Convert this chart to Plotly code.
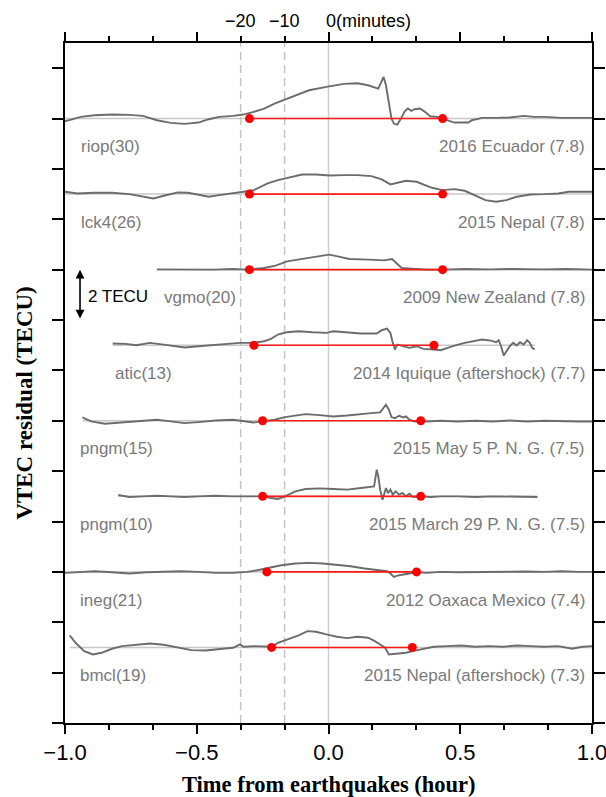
import plotly.graph_objects as go

# Station / event annotations, top to bottom
stations = ["riop(30)", "lck4(26)", "vgmo(20)", "atic(13)",
            "pngm(15)", "pngm(10)", "ineg(21)", "bmcl(19)"]
events = ["2016 Ecuador (7.8)", "2015 Nepal (7.8)", "2009 New Zealand (7.8)",
          "2014 Iquique (aftershock) (7.7)", "2015 May 5 P. N. G. (7.5)",
          "2015 March 29 P. N. G. (7.5)", "2012 Oaxaca Mexico (7.4)",
          "2015 Nepal (aftershock) (7.3)"]

# Vertical stacking offset of each record (TECU)
offsets = [24, 21, 18, 15, 12, 9, 6, 3]

# Anomaly window (hours from the earthquake)
red_start = [-0.300, -0.300, -0.300, -0.283, -0.250, -0.250, -0.234, -0.216]
red_end = [0.433, 0.433, 0.433, 0.400, 0.350, 0.350, 0.334, 0.318]

# Station label x position (hours)
label_x = [-0.945, -0.945, -0.631, -0.819, -0.949, -0.949, -0.949, -0.949]

# VTEC residual time series: time (hour), residual (TECU)
riop_t = [-1.0, -0.940, -0.888, -0.822, -0.756, -0.704, -0.651, -0.599, -0.546, -0.494,
          -0.454, -0.415, -0.362, -0.323, -0.284, -0.244, -0.205, -0.165, -0.126, -0.074,
          -0.008, 0.058, 0.110, 0.150, 0.189, 0.200, 0.209, 0.218, 0.229, 0.239,
          0.248, 0.261, 0.275, 0.288, 0.301, 0.314, 0.327, 0.347, 0.366, 0.386,
          0.412, 0.432, 0.452, 0.478, 0.504, 0.531, 0.544, 0.583, 0.636, 0.688,
          0.741, 0.780, 0.820, 0.885, 0.951, 1.0]
riop_v = [-0.106, 0.066, 0.132, 0.159, 0.146, 0.106, -0.066, -0.172, -0.212, -0.159,
          -0.026, 0.066, 0.106, 0.159, 0.265, 0.397, 0.595, 0.754, 0.926, 1.124,
          1.257, 1.376, 1.402, 1.323, 1.190, 1.455, 1.653, 1.323, 0.661, 0.0,
          -0.198, -0.238, 0.0, 0.265, 0.397, 0.304, 0.370, 0.397, 0.265, 0.093,
          0.066, 0.0, -0.066, -0.159, -0.159, -0.159, -0.066, 0.026, 0.026, 0.040,
          0.106, 0.066, 0.066, 0.026, 0.026, 0.026]

lck4_t = [-1.0, -0.953, -0.888, -0.822, -0.756, -0.704, -0.664, -0.625, -0.572, -0.533,
          -0.494, -0.454, -0.415, -0.362, -0.323, -0.284, -0.257, -0.231, -0.192, -0.152,
          -0.100, -0.047, 0.005, 0.058, 0.110, 0.163, 0.202, 0.235, 0.261, 0.294,
          0.334, 0.360, 0.393, 0.432, 0.478, 0.517, 0.557, 0.596, 0.636, 0.675,
          0.714, 0.767, 0.820, 0.872, 0.911, 0.951, 1.0]
lck4_v = [0.093, 0.026, 0.053, 0.053, 0.0, -0.106, -0.172, -0.066, 0.066, 0.053,
          -0.040, -0.106, -0.040, 0.053, 0.093, 0.159, 0.291, 0.423, 0.556, 0.648,
          0.780, 0.780, 0.741, 0.754, 0.754, 0.714, 0.582, 0.384, 0.450, 0.529,
          0.489, 0.384, 0.251, 0.159, 0.198, 0.132, -0.040, -0.238, -0.304, -0.238,
          -0.106, -0.013, 0.0, 0.026, 0.093, 0.106, 0.093]

vgmo_t = [-0.651, -0.584, -0.511, -0.437, -0.363, -0.304, -0.245, -0.201, -0.157, -0.098,
          -0.039, 0.002, 0.035, 0.079, 0.153, 0.211, 0.241, 0.256, 0.278, 0.315,
          0.374, 0.433, 0.521, 0.609, 0.698, 0.816, 0.904, 1.0]
vgmo_v = [0.013, 0.0, 0.013, 0.0, 0.026, 0.0, 0.066, 0.159, 0.331, 0.423,
          0.529, 0.595, 0.529, 0.423, 0.397, 0.370, 0.423, 0.265, 0.066, 0.040,
          0.0, 0.0, 0.026, 0.013, 0.026, 0.013, 0.026, 0.0]

atic_t = [-0.819, -0.769, -0.730, -0.678, -0.625, -0.586, -0.546, -0.494, -0.441, -0.389,
          -0.336, -0.284, -0.244, -0.218, -0.192, -0.159, -0.113, -0.060, -0.008, 0.018,
          0.071, 0.123, 0.183, 0.202, 0.222, 0.235, 0.244, 0.252, 0.261, 0.281,
          0.307, 0.334, 0.360, 0.399, 0.426, 0.452, 0.478, 0.517, 0.557, 0.583,
          0.616, 0.636, 0.646, 0.655, 0.665, 0.675, 0.688, 0.701, 0.714, 0.727,
          0.741, 0.754, 0.764, 0.773, 0.783]
atic_v = [0.066, 0.053, 0.0, 0.093, 0.026, -0.040, -0.093, -0.040, 0.013, 0.053,
          0.093, 0.093, 0.159, 0.251, 0.423, 0.516, 0.556, 0.516, 0.489, 0.556,
          0.516, 0.463, 0.463, 0.595, 0.661, 0.489, 0.093, -0.172, 0.026, -0.040,
          -0.106, -0.040, -0.146, -0.172, -0.198, -0.106, -0.013, 0.093, 0.159, 0.225,
          0.185, 0.119, 0.198, -0.040, -0.410, -0.238, -0.040, 0.093, -0.013, 0.119,
          0.026, 0.198, 0.093, -0.106, -0.172]

pngm15_t = [-0.934, -0.901, -0.848, -0.783, -0.717, -0.651, -0.599, -0.546, -0.494, -0.428,
            -0.362, -0.323, -0.284, -0.249, -0.205, -0.165, -0.126, -0.087, -0.034, 0.018,
            0.071, 0.123, 0.163, 0.196, 0.209, 0.218, 0.229, 0.239, 0.252, 0.268,
            0.284, 0.294, 0.307, 0.327, 0.353, 0.373, 0.426, 0.491, 0.557, 0.623,
            0.688, 0.754, 0.820, 0.885, 0.951, 1.0]
pngm15_v = [0.132, -0.026, -0.119, -0.066, 0.013, 0.040, -0.026, -0.093, -0.053, 0.013,
            0.040, 0.0, -0.066, -0.026, 0.040, 0.146, 0.212, 0.265, 0.225, 0.172,
            0.212, 0.278, 0.304, 0.331, 0.503, 0.635, 0.437, 0.146, 0.106, 0.198,
            0.132, 0.172, 0.040, -0.026, 0.0, -0.026, 0.0, -0.026, 0.0, -0.026,
            0.013, -0.026, 0.0, -0.026, -0.026, -0.026]

pngm10_t = [-0.798, -0.756, -0.704, -0.651, -0.599, -0.546, -0.494, -0.428, -0.362, -0.297,
            -0.249, -0.218, -0.192, -0.165, -0.126, -0.087, -0.034, 0.018, 0.071, 0.123,
            0.163, 0.173, 0.179, 0.183, 0.189, 0.196, 0.205, 0.211, 0.218, 0.226,
            0.235, 0.244, 0.255, 0.268, 0.281, 0.294, 0.307, 0.320, 0.351, 0.386,
            0.426, 0.491, 0.557, 0.623, 0.688, 0.754, 0.793]
pngm10_v = [0.053, -0.026, 0.0, 0.026, 0.0, -0.026, 0.0, 0.026, 0.0, 0.0,
            0.0, -0.066, -0.106, 0.0, 0.198, 0.291, 0.317, 0.291, 0.265, 0.331,
            0.397, 0.397, 0.794, 1.058, 0.794, 0.265, -0.132, 0.132, 0.331, 0.132,
            0.265, 0.066, 0.198, 0.066, 0.132, 0.0, 0.106, -0.026, 0.0, -0.026,
            0.0, 0.0, -0.026, 0.0, 0.0, -0.026, -0.026]

ineg_t = [-1.0, -0.940, -0.888, -0.822, -0.756, -0.691, -0.625, -0.559, -0.494, -0.428,
          -0.362, -0.310, -0.270, -0.231, -0.179, -0.126, -0.074, -0.021, 0.032, 0.084,
          0.137, 0.189, 0.222, 0.235, 0.248, 0.268, 0.294, 0.334, 0.373, 0.426,
          0.491, 0.557, 0.623, 0.688, 0.754, 0.820, 0.885, 0.951, 1.0]
ineg_v = [-0.040, 0.0, 0.026, -0.013, -0.066, -0.013, 0.0, 0.026, 0.0, -0.040,
          -0.040, 0.0, 0.066, 0.159, 0.265, 0.331, 0.357, 0.331, 0.291, 0.225,
          0.132, 0.066, 0.026, -0.066, -0.198, -0.132, -0.079, -0.013, -0.040, 0.0,
          -0.013, 0.0, -0.013, 0.0, 0.013, 0.0, 0.026, 0.0, 0.0]

bmcl_t = [-0.982, -0.960, -0.927, -0.894, -0.861, -0.822, -0.783, -0.730, -0.678, -0.625,
          -0.572, -0.520, -0.467, -0.415, -0.362, -0.336, -0.323, -0.284, -0.244, -0.215,
          -0.192, -0.152, -0.113, -0.080, -0.047, -0.008, 0.032, 0.071, 0.110, 0.150,
          0.176, 0.202, 0.215, 0.229, 0.261, 0.294, 0.320, 0.360, 0.399, 0.452,
          0.504, 0.557, 0.609, 0.662, 0.714, 0.767, 0.820, 0.872, 0.925, 0.964, 1.0]
bmcl_v = [0.476, 0.185, -0.146, -0.278, -0.212, -0.053, 0.053, 0.119, 0.159, 0.106,
          -0.013, -0.106, -0.119, -0.079, -0.013, 0.119, 0.026, 0.053, 0.026, 0.026,
          0.185, 0.344, 0.476, 0.648, 0.622, 0.516, 0.423, 0.370, 0.423, 0.384,
          0.251, 0.079, -0.013, -0.278, -0.238, -0.212, -0.146, -0.053, 0.026, 0.053,
          0.079, 0.026, 0.053, 0.026, 0.079, 0.053, 0.026, 0.053, -0.053, 0.026, 0.053]

series = [(riop_t, riop_v), (lck4_t, lck4_v), (vgmo_t, vgmo_v), (atic_t, atic_v),
          (pngm15_t, pngm15_v), (pngm10_t, pngm10_v), (ineg_t, ineg_v), (bmcl_t, bmcl_v)]

# Reference markers in minutes before the quake
minute_marks = [-20, -10]

SANS = "Liberation Sans, Arial, sans-serif"
SERIF = "Liberation Serif, Times New Roman, serif"
TRACE_GRAY = "#6c6c6c"
LABEL_GRAY = "#7a7a7a"

fig = go.Figure()

for i, (t, v) in enumerate(series):
    off = offsets[i]
    # zero line of each record
    fig.add_trace(go.Scatter(x=[t[0], t[-1]], y=[off, off], mode="lines",
                             line=dict(color="#c8c8c8", width=1.5),
                             hoverinfo="skip", showlegend=False))
    fig.add_trace(go.Scatter(x=t, y=[off + val for val in v], mode="lines",
                             line=dict(color=TRACE_GRAY, width=1.9),
                             name=stations[i], showlegend=False))

for i in range(len(series)):
    off = offsets[i]
    fig.add_trace(go.Scatter(x=[red_start[i], red_end[i]], y=[off, off],
                             mode="lines+markers",
                             line=dict(color="#ff1a1a", width=1.6),
                             marker=dict(color="#ff0000", size=9),
                             hoverinfo="skip", showlegend=False))

# guide lines at -20, -10 and 0 minutes
for m in minute_marks:
    fig.add_shape(type="line", xref="x", yref="paper", x0=m / 60, x1=m / 60, y0=0, y1=1,
                  line=dict(color="#c4c4c4", width=1.5, dash="8px,5px"), layer="below")
fig.add_shape(type="line", xref="x", yref="paper", x0=0, x1=0, y0=0, y1=1,
              line=dict(color="#cfcfcf", width=1.5), layer="below")

annotations = []
for i in range(len(series)):
    ly = offsets[i] - 1.12
    annotations.append(dict(x=label_x[i], y=ly, xref="x", yref="y", text=stations[i],
                            showarrow=False, xanchor="left", yanchor="middle",
                            font=dict(family=SANS, size=17, color=LABEL_GRAY)))
    annotations.append(dict(x=0.98, y=ly, xref="x", yref="y", text=events[i],
                            showarrow=False, xanchor="right", yanchor="middle",
                            font=dict(family=SANS, size=17, color=LABEL_GRAY)))

# top minute labels
for m in minute_marks:
    annotations.append(dict(x=m / 60, y=1, xref="x", yref="paper", text="\u2212%d" % abs(m),
                            showarrow=False, xanchor="center", yanchor="middle", yshift=22,
                            font=dict(family=SANS, size=18, color="black")))
annotations.append(dict(x=0, y=1, xref="x", yref="paper", text="0(minutes)",
                        showarrow=False, xanchor="left", yanchor="middle", yshift=22, xshift=-5,
                        font=dict(family=SANS, size=18, color="black")))

# 2 TECU scale bar
annotations.append(dict(x=-0.943, y=18, ax=-0.943, ay=16, xref="x", yref="y",
                        axref="x", ayref="y", text="", showarrow=True,
                        arrowhead=2, arrowside="end+start", arrowsize=1.1, arrowwidth=1.6,
                        arrowcolor="black", standoff=0, startstandoff=0))
annotations.append(dict(x=-0.920, y=16.93, xref="x", yref="y", text="2 TECU",
                        showarrow=False, xanchor="left", yanchor="middle",
                        font=dict(family=SANS, size=17, color="black")))

# axis titles
annotations.append(dict(x=0.5, y=-0.091, xref="paper", yref="paper",
                        text="<b>Time from earthquakes (hour)</b>", showarrow=False,
                        xanchor="center", yanchor="middle",
                        font=dict(family=SERIF, size=22.5, color="black")))
annotations.append(dict(x=-0.076, y=0.471, xref="paper", yref="paper",
                        text="<b>VTEC residual (TECU)</b>", showarrow=False, textangle=-90,
                        xanchor="center", yanchor="middle",
                        font=dict(family=SERIF, size=23, color="black")))

fig.update_layout(
    width=606, height=797,
    margin=dict(l=65, r=14, t=43, b=74, autoexpand=False),
    paper_bgcolor="white", plot_bgcolor="white",
    showlegend=False,
    annotations=annotations,
    xaxis=dict(range=[-1, 1], tickvals=[-1, -0.5, 0, 0.5, 1], tickformat=".1f",
               ticks="outside", ticklen=9, tickwidth=1.5, tickcolor="black",
               minor=dict(dtick=1 / 6, tick0=0, ticks="outside", ticklen=5,
                          tickwidth=1.5, tickcolor="black", showgrid=False),
               showline=True, linewidth=2, linecolor="black", mirror="ticks",
               showgrid=False, zeroline=False, automargin=False,
               ticklabeloverflow="allow",
               tickfont=dict(family=SANS, size=22, color="black")),
    yaxis=dict(range=[0, 27], tick0=0, dtick=2, ticks="outside", ticklen=11,
               tickwidth=1.5, tickcolor="black", showticklabels=False,
               showline=True, linewidth=2, linecolor="black", mirror="ticks",
               showgrid=False, zeroline=False, automargin=False),
)

fig.write_html("out.html")
